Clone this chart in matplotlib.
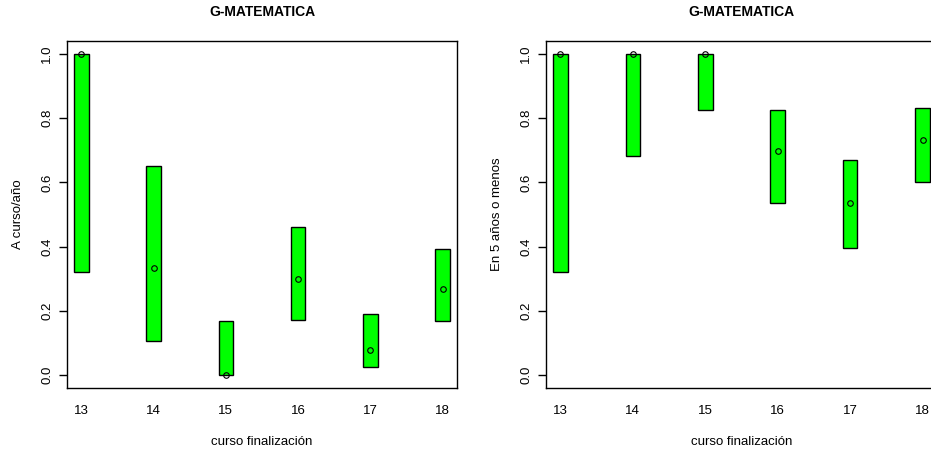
import numpy as np
import matplotlib
matplotlib.use('Agg')
import matplotlib.pyplot as plt

plt.rcParams['font.family'] = ['Liberation Sans', 'DejaVu Sans']

# Curso de finalización
cursos = [13, 14, 15, 16, 17, 18]

# Panel izquierdo: A curso/año
a_curso_low = [0.321, 0.105, 0.0, 0.171, 0.025, 0.168]
a_curso_high = [1.0, 0.652, 0.170, 0.462, 0.189, 0.394]
a_curso_est = [1.0, 0.332, 0.0, 0.298, 0.077, 0.267]

# Panel derecho: En 5 años o menos
en5_low = [0.321, 0.683, 0.826, 0.535, 0.397, 0.602]
en5_high = [1.0, 1.0, 1.0, 0.826, 0.671, 0.832]
en5_est = [1.0, 1.0, 1.0, 0.699, 0.537, 0.733]

yticks = [0.0, 0.2, 0.4, 0.6, 0.8, 1.0]
title = 'G-MATEMATICA'
xlabel = 'curso finalización'
ylabels = ['A curso/año', 'En 5 años o menos']

W, H = 931, 453
fig = plt.figure(figsize=(W / 100, H / 100), dpi=100)

ax1 = fig.add_axes([67 / W, 65 / H, 390 / W, 347 / H])
ax2 = fig.add_axes([546 / W, 65 / H, 391 / W, 347 / H])


def panel(ax, low, high, est, ylab):
    low = np.array(low)
    high = np.array(high)
    ax.bar(cursos, high - low, bottom=low, width=0.2, color='#00FF00',
           edgecolor='black', linewidth=1.0, zorder=2)
    ax.plot(cursos, est, 'o', markersize=4, markerfacecolor='none',
            markeredgecolor='black', markeredgewidth=0.8, zorder=3)
    ax.set_xlim(12.8, 18.2)
    ax.set_ylim(-0.04, 1.04)
    ax.set_xticks(cursos)
    ax.set_xticklabels([str(c) for c in cursos])
    ax.set_yticks(yticks)
    ax.set_yticklabels(['%.1f' % v for v in yticks], rotation=90, va='center')
    ax.tick_params(axis='x', length=0, pad=12, labelsize=9.5)
    ax.tick_params(axis='y', length=6, width=1, pad=4, labelsize=9.5)
    for s in ax.spines.values():
        s.set_linewidth(1.0)
    ax.set_title(title, fontsize=10, fontweight='bold', pad=18)
    ax.set_xlabel(xlabel, fontsize=9.5, labelpad=14)
    ax.set_ylabel(ylab, fontsize=9.5, labelpad=12)


panel(ax1, a_curso_low, a_curso_high, a_curso_est, ylabels[0])
panel(ax2, en5_low, en5_high, en5_est, ylabels[1])

fig.savefig('out.png', dpi=100)
